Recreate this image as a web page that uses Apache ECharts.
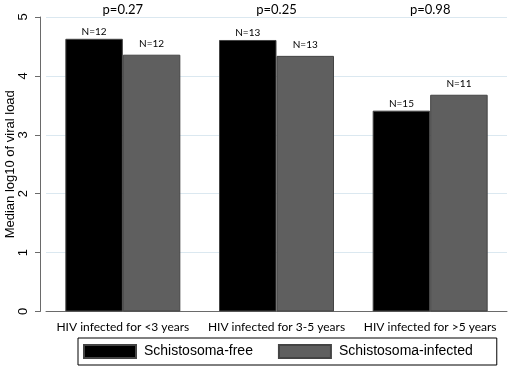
<!DOCTYPE html>
<html>
<head>
<meta charset="utf-8">
<script src="https://cdn.jsdelivr.net/npm/echarts@6/dist/echarts.min.js"></script>
<style>
html,body{margin:0;padding:0;background:#fff;}
#main{width:517px;height:368px;}
</style>
</head>
<body>
<div id="main"></div>
<script>
var categories = ['HIV infected for <3 years', 'HIV infected for 3-5 years', 'HIV infected for >5 years'];
var freeValues = [4.63, 4.61, 3.41];
var infectedValues = [4.36, 4.34, 3.68];
var freeN = [12, 13, 15];
var infectedN = [12, 13, 11];
var pValues = ['p=0.27', 'p=0.25', 'p=0.98'];
var yTicks = [0, 1, 2, 3, 4, 5];

var chart = echarts.init(document.getElementById('main'));
chart.setOption({
	animation: false,
	textStyle: {fontFamily: 'Lato'},
	grid: {left: 46, right: 10, top: 17, bottom: 56.5, containLabel: false, outerBoundsMode: 'none'},
	legend: {
		left: 78,
		top: 338,
		itemWidth: 52,
		itemHeight: 13,
		itemGap: 25,
		padding: [6, 24, 6, 5],
		borderColor: '#000',
		borderWidth: 1,
		icon: 'rect',
		textStyle: {fontFamily: 'Liberation Sans', fontSize: 14, color: '#000', padding: [0, 0, 0, 3]},
		data: ['Schistosoma-free', 'Schistosoma-infected']
	},
	xAxis: [
		{
			type: 'category',
			data: categories,
			axisTick: {show: false},
			axisLine: {lineStyle: {color: '#6a6a6a', width: 1}},
			axisLabel: {color: '#000', fontSize: 12, margin: 10, interval: 0}
		},
		{
			type: 'category',
			position: 'top',
			data: pValues,
			axisTick: {show: false},
			axisLine: {show: false},
			axisLabel: {color: '#000', fontSize: 13, margin: 1, interval: 0}
		}
	],
	yAxis: {
		type: 'value',
		min: 0,
		max: 5,
		interval: 1,
		offset: 6,
		name: 'Median log10 of viral load',
		nameLocation: 'middle',
		nameGap: 23,
		nameMoveOverlap: false,
		nameTextStyle: {color: '#000', fontSize: 13, fontFamily: 'Liberation Sans'},
		axisLine: {show: true, lineStyle: {color: '#6a6a6a'}},
		axisTick: {show: true, length: 5, lineStyle: {color: '#6a6a6a'}},
		axisLabel: {
			color: '#000', fontSize: 13, rotate: 90, margin: 10, fontFamily: 'Liberation Sans',
			formatter: function (v) { return yTicks.indexOf(v) >= 0 ? String(v) : ''; }
		},
		splitLine: {lineStyle: {color: '#dbe8f0', width: 1}}
	},
	series: [
		{
			name: 'Schistosoma-free',
			type: 'bar',
			data: freeValues,
			barWidth: 57.5,
			barGap: '0%',
			itemStyle: {color: '#000', borderColor: '#444', borderWidth: 1},
			label: {
				show: true, position: 'top', distance: 2, fontSize: 10, color: '#000',
				formatter: function (p) { return 'N=' + freeN[p.dataIndex]; }
			}
		},
		{
			name: 'Schistosoma-infected',
			type: 'bar',
			data: infectedValues,
			barWidth: 57.5,
			itemStyle: {color: '#5f5f5f', borderColor: '#444', borderWidth: 1},
			label: {
				show: true, position: 'top', distance: 6, fontSize: 10, color: '#000',
				formatter: function (p) { return 'N=' + infectedN[p.dataIndex]; }
			}
		}
	]
});
</script>
</body>
</html>
